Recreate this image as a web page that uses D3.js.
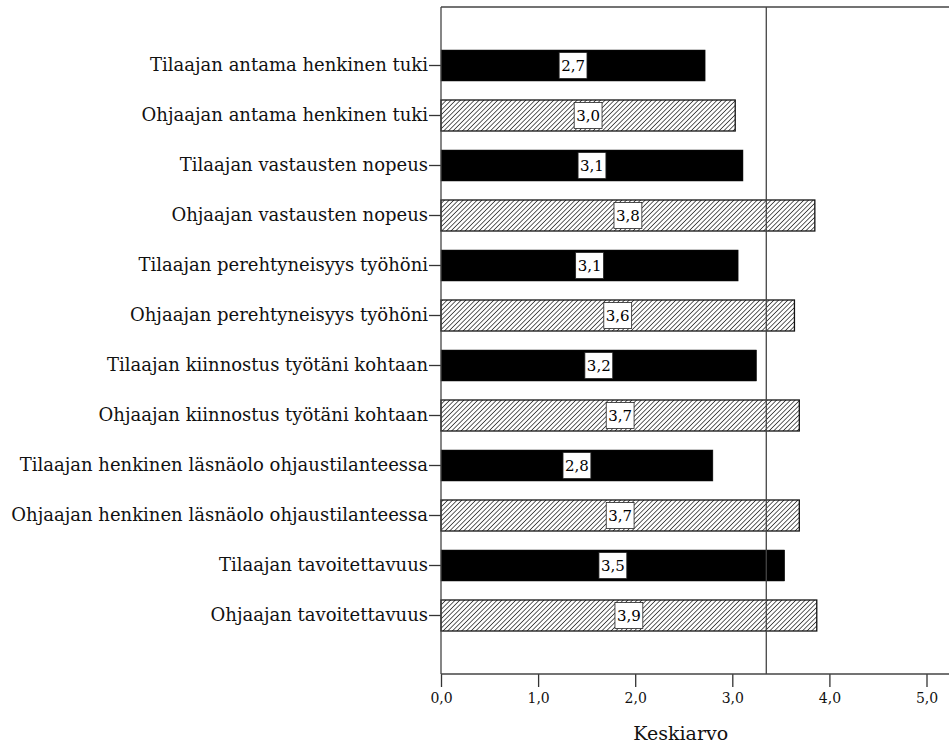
<!DOCTYPE html>
<html><head><meta charset="utf-8">
<script src="https://cdn.jsdelivr.net/npm/d3@7/dist/d3.min.js"></script>
<style>body{margin:0;background:#fff}svg{display:block}</style>
</head><body><svg id="c" width="949" height="747"></svg>
<script>
const categories = [
  "Tilaajan antama henkinen tuki",
  "Ohjaajan antama henkinen tuki",
  "Tilaajan vastausten nopeus",
  "Ohjaajan vastausten nopeus",
  "Tilaajan perehtyneisyys työhöni",
  "Ohjaajan perehtyneisyys työhöni",
  "Tilaajan kiinnostus työtäni kohtaan",
  "Ohjaajan kiinnostus työtäni kohtaan",
  "Tilaajan henkinen läsnäolo ohjaustilanteessa",
  "Ohjaajan henkinen läsnäolo ohjaustilanteessa",
  "Tilaajan tavoitettavuus",
  "Ohjaajan tavoitettavuus"
];
const values = [2.72, 3.03, 3.11, 3.85, 3.06, 3.64, 3.25, 3.69, 2.80, 3.69, 3.54, 3.87];
const valueLabels = ["2,7","3,0","3,1","3,8","3,1","3,6","3,2","3,7","2,8","3,7","3,5","3,9"];
const groups = ["Tilaaja","Ohjaaja","Tilaaja","Ohjaaja","Tilaaja","Ohjaaja","Tilaaja","Ohjaaja","Tilaaja","Ohjaaja","Tilaaja","Ohjaaja"];
const xTicks = [0,1,2,3,4,5];
const xTickLabels = ["0,0","1,0","2,0","3,0","4,0","5,0"];
const referenceValue = 3.35;
const xTitle = "Keskiarvo";

const svg = d3.select("#c");
const FONT = "'DejaVu Serif', serif";
const L = 441, T = 7, B = 674, R = 949;

const x = d3.scaleLinear().domain([0,5]).range([L, 926.5]);
const y = d3.scaleBand().domain(categories).range([T, B]).paddingInner(0.38).paddingOuter(0.86);

const defs = svg.append("defs");
const pat = defs.append("pattern").attr("id","hatch").attr("patternUnits","userSpaceOnUse")
  .attr("width",3.3).attr("height",3.3).attr("patternTransform","rotate(45)");
pat.append("rect").attr("width",3.3).attr("height",3.3).attr("fill","#fff");
pat.append("line").attr("x1",0).attr("y1",0).attr("x2",0).attr("y2",3.3)
  .attr("stroke","#2a2a2a").attr("stroke-width",1.5);

// bars
const bars = svg.append("g");
categories.forEach((c,i)=>{
  const hatched = groups[i] === "Ohjaaja";
  bars.append("rect")
    .attr("x", x(0)).attr("y", y(c))
    .attr("width", x(values[i]) - x(0)).attr("height", y.bandwidth())
    .attr("fill", hatched ? "url(#hatch)" : "#000")
    .attr("stroke", "#111").attr("stroke-width", hatched ? 1.3 : 0.5);
});

// reference line
svg.append("line").attr("x1", x(referenceValue)).attr("x2", x(referenceValue))
  .attr("y1", T).attr("y2", B).attr("stroke","#444").attr("stroke-width",1.3);

// frame top line
svg.append("line").attr("x1",L).attr("x2",R).attr("y1",T).attr("y2",T).attr("stroke","#444").attr("stroke-width",1.3);

// y axis
const yAxis = svg.append("g").attr("transform",`translate(${L},0)`)
  .call(d3.axisLeft(y).tickSize(12).tickPadding(1));
yAxis.select(".domain").remove();
yAxis.selectAll(".tick line").attr("stroke","#333").attr("stroke-width",1.3);
yAxis.selectAll(".tick text").attr("font-family",FONT).attr("font-size",18).attr("fill","#111");
svg.append("line").attr("x1",L).attr("x2",L).attr("y1",T).attr("y2",B).attr("stroke","#444").attr("stroke-width",1.3);

// x axis
const xAxis = svg.append("g").attr("transform",`translate(0,${B})`)
  .call(d3.axisBottom(x).tickValues(xTicks).tickFormat((d,i)=>xTickLabels[i]).tickSize(13).tickPadding(6));
xAxis.select(".domain").remove();
xAxis.selectAll(".tick line").attr("stroke","#333").attr("stroke-width",1.3);
xAxis.selectAll(".tick text").attr("font-family",FONT).attr("font-size",14).attr("fill","#111");
svg.append("line").attr("x1",L).attr("x2",R).attr("y1",B).attr("y2",B).attr("stroke","#444").attr("stroke-width",1.3);

svg.append("text").attr("x", x(2.5) - 3).attr("y", 740).attr("text-anchor","middle")
  .attr("font-family",FONT).attr("font-size",19).attr("fill","#111").text(xTitle);

// value labels
const lab = svg.append("g");
categories.forEach((c,i)=>{
  const cx = (x(0) + x(values[i]))/2;
  const cy = y(c) + y.bandwidth()/2;
  const g = lab.append("g");
  const t = g.append("text").attr("x",cx).attr("y",cy).attr("dy","0.36em")
    .attr("text-anchor","middle").attr("font-family",FONT).attr("font-size",15).attr("fill","#000")
    .text(valueLabels[i]);
  const bb = t.node().getBBox();
  g.insert("rect","text").attr("x", cx - (bb.width/2 + 2)).attr("y", cy - 13)
    .attr("width", bb.width + 4).attr("height", 26)
    .attr("fill","#fff").attr("stroke","#222").attr("stroke-width",0.8);
});
</script></body></html>
